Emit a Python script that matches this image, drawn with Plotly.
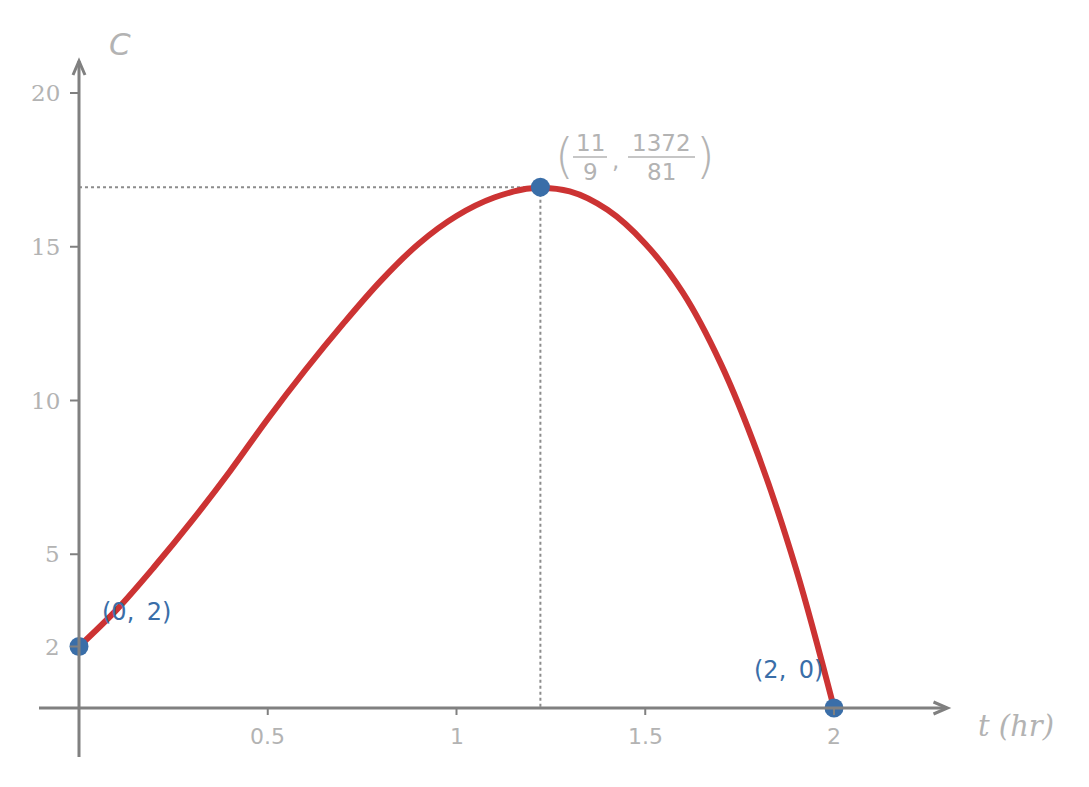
import plotly.graph_objects as go

# ---- data ----
t_vals = [0.0, 0.1, 0.2, 0.3, 0.4, 0.5, 0.6, 0.7, 0.8, 0.9, 1.0,
          1.1, 1.2, 1.3, 1.4, 1.5, 1.6, 1.7, 1.8, 1.9, 2.0]
c_vals = [2.0, 3.2, 4.6, 6.1, 7.7, 9.4, 11.0, 12.5, 13.9, 15.1, 16.0,
          16.6, 16.9, 16.8, 16.2, 15.1, 13.5, 11.2, 8.2, 4.5, 0.0]
key_t = [0.0, 11 / 9, 2.0]
key_c = [2.0, 1372 / 81, 0.0]
x_ticks = [0.5, 1, 1.5, 2]
x_tick_labels = ["0.5", "1", "1.5", "2"]
y_ticks = [2, 5, 10, 15, 20]
y_tick_labels = ["2", "5", "10", "15", "20"]

W, H = 1089, 787
X0PX, XS = 79.0, 377.5      # pixel of t=0, pixels per unit
Y0PX, YS = 708.0, 30.75     # pixel of C=0, pixels per unit
xr = [-X0PX / XS, (W - X0PX) / XS]
yr = [-(H - Y0PX) / YS, Y0PX / YS]

def dx(p):
    return p / XS

def dy(p):
    return p / YS

AXIS = "#808080"
TXT = "#b3b3b3"
RED = "#cc3333"
BLUE = "#3a6ea8"

fig = go.Figure()

# dotted guides to the maximum
mt, mc = key_t[1], key_c[1]
fig.add_trace(go.Scatter(x=[0, mt, mt], y=[mc, mc, 0], mode="lines",
                         line=dict(color="#8c8c8c", width=2, dash="dot"),
                         hoverinfo="skip"))

shapes = []
# axes
shapes.append(dict(type="line", x0=xr[0] + dx(39), x1=dx(947 - X0PX), y0=0, y1=0,
                   line=dict(color=AXIS, width=3)))
shapes.append(dict(type="line", x0=0, x1=0, y0=-dy(757 - Y0PX), y1=dy(Y0PX - 61),
                   line=dict(color=AXIS, width=3)))
# arrow heads
xt = dx(947.5 - X0PX)
shapes.append(dict(type="path",
                   path=f"M {xt - dx(14)} {dy(6)} L {xt} 0 L {xt - dx(14)} {-dy(6)}",
                   line=dict(color=AXIS, width=3)))
yt = dy(Y0PX - 61)
shapes.append(dict(type="path",
                   path=f"M {-dx(6)} {yt - dy(14)} L 0 {yt} L {dx(6)} {yt - dy(14)}",
                   line=dict(color=AXIS, width=3)))
# tick marks
for v in x_ticks:
    shapes.append(dict(type="line", x0=v, x1=v, y0=0, y1=-dy(7),
                       line=dict(color=AXIS, width=2)))
for v in y_ticks:
    shapes.append(dict(type="line", x0=-dx(9), x1=0, y0=v, y1=v,
                       line=dict(color=AXIS, width=2)))

# curve
fig.add_trace(go.Scatter(x=t_vals, y=c_vals, mode="lines", line_shape="spline",
                         line=dict(color=RED, width=6), hoverinfo="skip"))
# key points
fig.add_trace(go.Scatter(x=key_t, y=key_c, mode="markers",
                         marker=dict(color=BLUE, size=19), hoverinfo="skip"))

ann = []
for v, s in zip(x_ticks, x_tick_labels):
    ann.append(dict(x=v, y=0, text=s, showarrow=False, xanchor="center", yanchor="middle",
                    yshift=-28, font=dict(family="DejaVu Sans", size=22, color=TXT)))
for v, s in zip(y_ticks, y_tick_labels):
    ann.append(dict(x=0, y=v, text=s, showarrow=False, xanchor="right", yanchor="middle",
                    xshift=-17, font=dict(family="DejaVu Serif", size=23, color=TXT)))

# axis titles
ann.append(dict(x=dx(107 - X0PX), y=dy(Y0PX - 44), text="<i>C</i>", showarrow=False,
                xanchor="left", yanchor="middle",
                font=dict(family="DejaVu Sans", size=31, color=TXT)))
ann.append(dict(x=dx(976 - X0PX), y=-dy(726 - Y0PX), text="<i>t (hr)</i>", showarrow=False,
                xanchor="left", yanchor="middle",
                font=dict(family="DejaVu Serif", size=29, color=TXT)))

# point labels
ann.append(dict(x=key_t[0], y=key_c[0], text="(0,\u2009 2)", showarrow=False,
                xanchor="left", yanchor="middle", xshift=21, yshift=35,
                font=dict(family="DejaVu Sans", size=24, color=BLUE)))
ann.append(dict(x=key_t[2], y=key_c[2], text="(2,\u2009 0)", showarrow=False,
                xanchor="right", yanchor="middle", xshift=-9, yshift=38,
                font=dict(family="DejaVu Sans", size=24, color=BLUE)))

# maximum label built as a fraction pair
def pix(px_, py_):
    return dx(px_ - X0PX), dy(Y0PX - py_)

BAR_Y = 157
frac_font = dict(family="DejaVu Sans", size=23, color=TXT)
paren_font = dict(family="DejaVu Sans", size=48, color=TXT, weight=200)
for (px_, py_, s, f, ya) in [
    (564, 156, "(", paren_font, "middle"), (705, 156, ")", paren_font, "middle"),
    (590, BAR_Y, "11", frac_font, "bottom"), (590, BAR_Y + 1, "9", frac_font, "top"),
    (661, BAR_Y, "1372", frac_font, "bottom"), (661, BAR_Y + 1, "81", frac_font, "top"),
    (615, 160, ",", frac_font, "middle"),
]:
    x_, y_ = pix(px_, py_)
    ann.append(dict(x=x_, y=y_, text=s, showarrow=False, xanchor="center",
                    yanchor=ya, borderpad=0, font=f))
for (a, b) in [(573, 607), (628, 695)]:
    xa, yy = pix(a, BAR_Y)
    xb, _ = pix(b, BAR_Y)
    shapes.append(dict(type="line", x0=xa, x1=xb, y0=yy, y1=yy,
                       line=dict(color=TXT, width=1.5)))

fig.update_layout(
    width=W, height=H, margin=dict(l=0, r=0, t=0, b=0),
    paper_bgcolor="white", plot_bgcolor="white", showlegend=False,
    xaxis=dict(range=xr, visible=False, fixedrange=True),
    yaxis=dict(range=yr, visible=False, fixedrange=True),
    shapes=shapes, annotations=ann,
)
fig.write_html("out.html")
